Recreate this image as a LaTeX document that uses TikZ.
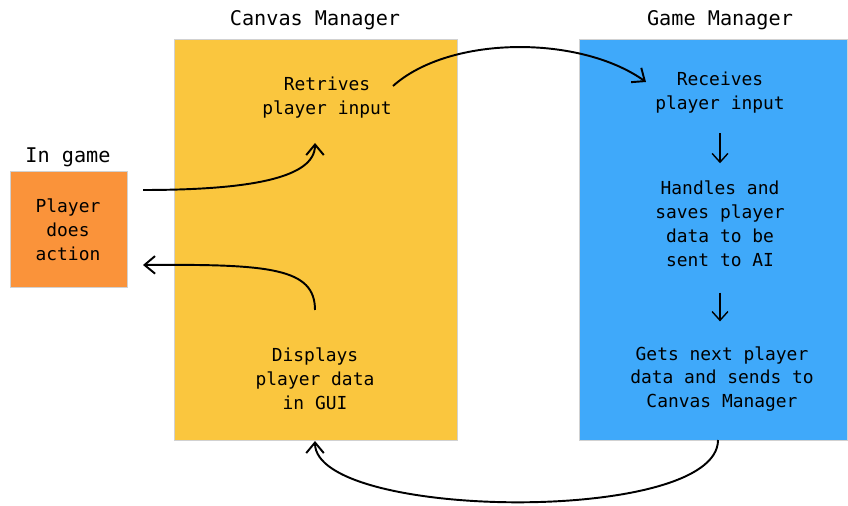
\documentclass[tikz,border=0pt]{standalone}
\usepackage{fontspec}
\setmainfont{DejaVu Sans Mono}
\usepackage{xcolor}
\usetikzlibrary{arrows.meta}

\definecolor{amarelo}{RGB}{250,198,62}
\definecolor{azul}{RGB}{63,169,250}
\definecolor{laranja}{RGB}{250,147,58}

\begin{document}
\begin{tikzpicture}[x=0.02cm,y=-0.02cm,
    painel/.style={rectangle,draw=black!18,line width=0.4pt,inner sep=0pt},
    titulo/.style={font=\fontsize{11.5}{14}\selectfont},
    texto/.style={align=center,font=\fontsize{10.2}{13.6}\selectfont,inner sep=2pt},
    seta/.style={line width=1.1pt,-{Straight Barb[length=6pt,width=10pt]}},
    setinha/.style={line width=0.8pt,-{Straight Barb[length=5pt,width=9pt]}}  ]
    \useasboundingbox (0,0) rectangle (848,506);

    \node[painel,fill=laranja,minimum width=2.34cm,minimum height=2.32cm] (jogador) at (68.5,229) {};
    \node[painel,fill=amarelo,minimum width=5.66cm,minimum height=8.02cm] (canvas) at (315.5,239.5) {};
    \node[painel,fill=azul,minimum width=5.36cm,minimum height=8.02cm] (jogo) at (713,239.5) {};

    \node[titulo] (tjogador) at (68,157) {In game};
    \node[titulo] (tcanvas) at (315,20) {Canvas Manager};
    \node[titulo] (tjogo) at (720,20) {Game Manager};

    \node[texto] (acao) at (68,230) {Player\\does\\action};
    \node[texto] (retira) at (327,98) {Retrives\\player input};
    \node[texto] (mostra) at (315,379) {Displays\\player data\\in GUI};
    \node[texto] (recebe) at (720,93) {Receives\\player input};
    \node[texto] (trata) at (720,224) {Handles and\\saves player\\data to be\\sent to AI};
    \node[texto] (envia) at (722,379) {Gets next player\\data and sends to\\Canvas Manager};

    \coordinate (a1) at (143,190);
    \coordinate (a2) at (315,143);
    \coordinate (b1) at (315,310);
    \coordinate (b2) at (143,265);
    \coordinate (c1) at (393,86);
    \coordinate (c2) at (646,82);
    \coordinate (d1) at (718,440);
    \coordinate (d2) at (315,441);

    \draw[seta] (a1) .. controls (250,190) and (315,178) .. (a2);
    \draw[seta] (b1) .. controls (315,268) and (270,264) .. (b2);
    \draw[seta] (c1) .. controls (450,35) and (580,35) .. (c2);
    \draw[seta] (d1) .. controls (718,525) and (315,520) .. (d2);

    \draw[setinha,shorten <=9pt,shorten >=8pt] (recebe.south -| 720,0) -- (trata.north -| 720,0);
    \draw[setinha,shorten <=12.5pt,shorten >=12pt] (trata.south -| 720,0) -- (envia.north -| 720,0);
\end{tikzpicture}
\end{document}
